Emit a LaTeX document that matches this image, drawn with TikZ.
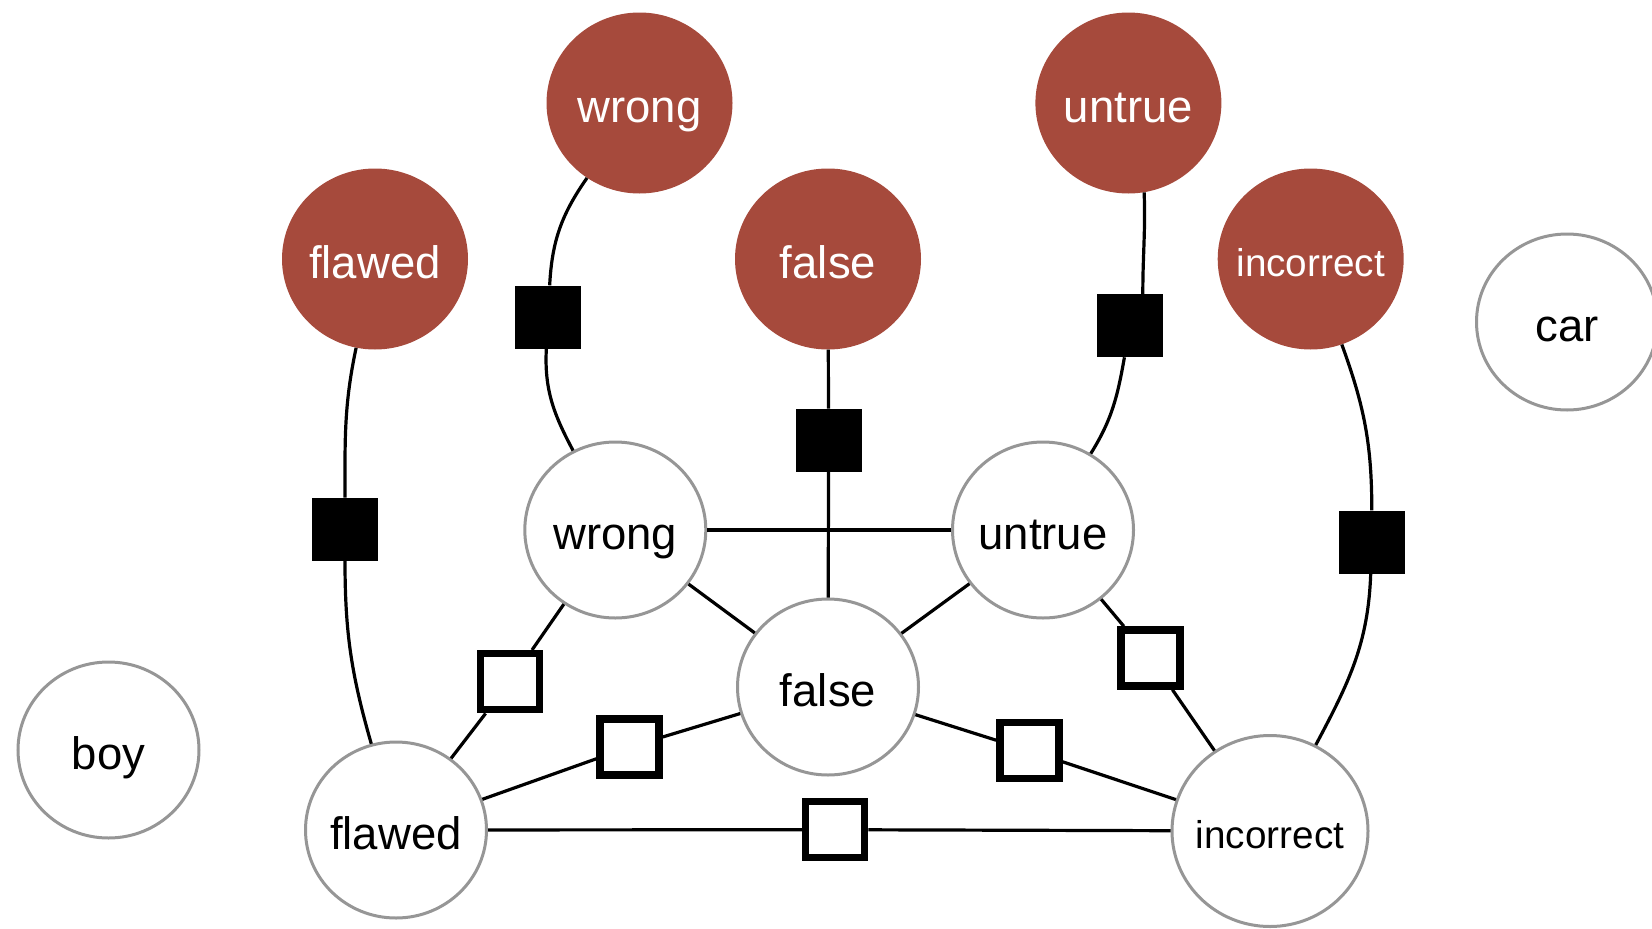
\documentclass[tikz,border=0pt]{standalone}
\usepackage{fontspec}
\setmainfont{Liberation Sans}
\usetikzlibrary{shapes.geometric,calc}
\definecolor{clay}{RGB}{166,74,60}
\definecolor{rim}{RGB}{150,150,150}

% word labels take no width, so every circle keeps its set size
\newcommand{\wordtext}[1]{\makebox[0pt]{#1}}

\begin{document}
\begin{tikzpicture}[x=1pt,y=-1pt,
  word/.style={ellipse, inner sep=0pt, minimum width=181pt, minimum height=176pt,
    font=\fontsize{45.5}{50}\selectfont, text height=41pt, text depth=3pt},
  hidden/.style={word, fill=clay, text=white, minimum width=186pt, minimum height=181pt},
  seen/.style={word, draw=rim, line width=3pt, fill=white, text=black},
  smallword/.style={font=\fontsize{38.7}{44}\selectfont, text height=36pt, text depth=2pt},
  solidfac/.style={rectangle, fill=black, inner sep=0pt, minimum width=66pt, minimum height=63pt},
  openfac/.style={rectangle, draw=black, line width=7.5pt, fill=white, inner sep=0pt,
    minimum width=59pt, minimum height=56pt},
  link/.style={line width=3.2pt, black}]

\useasboundingbox (0,0) rectangle (1652,929);

% hidden (observed) word nodes
\node[hidden] (rwr) at (639.5,103) {\wordtext{wrong}};
\node[hidden] (run) at (1128.4,103) {\wordtext{untrue}};
\node[hidden] (rfl) at (375,259) {\wordtext{flawed}};
\node[hidden] (rfa) at (828,259) {\wordtext{false}};
\node[hidden, smallword] (rin) at (1310.7,259) {\wordtext{incorrect}};

% latent word nodes
\node[seen] (wwr) at (615.3,530) {\wordtext{wrong}};
\node[seen] (wun) at (1043,530) {\wordtext{untrue}};
\node[seen] (wfa) at (828,687) {\wordtext{false}};
\node[seen] (wfl) at (396,830) {\wordtext{flawed}};
\node[seen, smallword, minimum width=196pt, minimum height=191pt] (win) at (1270,831) {\wordtext{incorrect}};
\node[seen] (boy) at (108.5,750) {\wordtext{boy}};
\node[seen] (car) at (1567,322) {\wordtext{car}};

% unary factors
\node[solidfac] (f1) at (345,529.4) {};
\node[solidfac] (f2) at (548,317) {};
\node[solidfac] (f3) at (828.6,440.4) {};
\node[solidfac] (f4) at (1130,325.6) {};
\node[solidfac] (f5) at (1371.8,542) {};

% pairwise factors
\node[openfac] (o1) at (510,681.7) {};
\node[openfac] (o2) at (629.5,747) {};
\node[openfac] (o3) at (835,829.7) {};
\node[openfac] (o4) at (1029.4,750.7) {};
\node[openfac] (o5) at (1150.5,658) {};

% unary factor links
\draw[link] (rfl) to[out=-102,in=90] (f1);
\draw[link] (f1) to[out=-90,in=106] (wfl);
\draw[link] (rwr) to[out=-125,in=87] (f2);
\draw[link] (f2) to[out=-93,in=118] (wwr);
\draw[link] (rfa) -- (f3) -- (wfa);
\draw[link] (run.-80) to[out=-88,in=90] (f4.68);
\draw[link] (f4) to[out=-100,in=58] (wun);
\draw[link] (rin) to[out=-70,in=90] (f5);
\draw[link] (f5) to[out=-92,in=62] (win);

% plain links between latent words
\draw[link] (wwr) -- (wun);
\draw[link] (wwr) -- (wfa);
\draw[link] (wun) -- (wfa);

% links through pairwise factors
\draw[link] (wwr) -- (o1) -- (wfl);
\draw[link] (wfa) -- (o2) -- (wfl);
\draw[link] (wfl) -- (o3) -- (win);
\draw[link] (wfa) -- (o4) -- (win);
\draw[link] (wun) -- (o5) -- (win);
\end{tikzpicture}
\end{document}
